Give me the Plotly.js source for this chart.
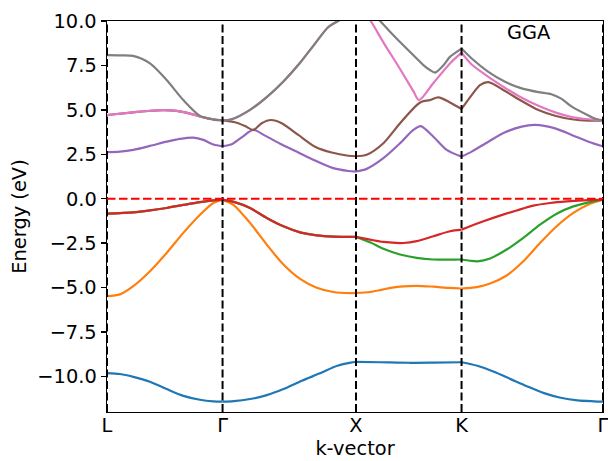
<!DOCTYPE html>
<html>
<head>
<meta charset="utf-8">
<script src="https://cdn.plot.ly/plotly-3.0.1.min.js"></script>
<style>html,body{margin:0;padding:0;background:#fff;}#chart{width:608px;height:461px;}</style>
</head>
<body>
<div id="chart"></div>
<script>
// High-symmetry k-points (path distance) and their labels
const kpoints = [0, 0.866, 1.866, 2.657, 3.717];
const kLabels = ['L', 'Γ', 'X', 'K', 'Γ'];
const yTicks = [-10, -7.5, -5, -2.5, 0, 2.5, 5, 7.5, 10];

// Band 1 (blue)
const k1 = [0, 0.097, 0.197, 0.322, 0.447, 0.572, 0.697, 0.797, 0.866, 0.95, 1.072, 1.197, 1.322, 1.46, 1.601, 1.726, 1.826, 1.866, 2.05, 2.26, 2.45, 2.657, 2.775, 2.9, 3.025, 3.15, 3.275, 3.4, 3.525, 3.65, 3.717];
const e1 = [-9.81, -9.86, -10.02, -10.30, -10.71, -11.09, -11.31, -11.40, -11.42, -11.39, -11.27, -11.05, -10.71, -10.24, -9.81, -9.40, -9.22, -9.18, -9.20, -9.23, -9.22, -9.20, -9.40, -9.74, -10.15, -10.56, -10.94, -11.20, -11.35, -11.40, -11.42];

// Band 2 (orange)
const k2 = [0, 0.097, 0.197, 0.322, 0.447, 0.572, 0.697, 0.797, 0.866, 0.947, 1.072, 1.197, 1.322, 1.447, 1.572, 1.697, 1.822, 1.866, 1.97, 2.071, 2.196, 2.321, 2.446, 2.57, 2.657, 2.771, 2.871, 2.995, 3.12, 3.245, 3.37, 3.495, 3.62, 3.717];
const e2 = [-5.48, -5.38, -4.92, -4.08, -3.05, -1.92, -0.90, -0.24, -0.05, -0.34, -1.36, -2.58, -3.70, -4.51, -5.01, -5.25, -5.31, -5.30, -5.25, -5.10, -4.95, -4.90, -4.95, -5.02, -5.05, -4.97, -4.77, -4.32, -3.52, -2.49, -1.55, -0.80, -0.28, -0.05];

// Band 3 (green)
const k3 = [0, 0.197, 0.322, 0.447, 0.572, 0.697, 0.797, 0.866, 0.95, 1.072, 1.197, 1.322, 1.447, 1.572, 1.697, 1.866, 1.971, 2.071, 2.196, 2.321, 2.446, 2.57, 2.657, 2.72, 2.775, 2.871, 2.995, 3.12, 3.245, 3.37, 3.495, 3.62, 3.717];
const e3 = [-0.84, -0.77, -0.66, -0.52, -0.35, -0.19, -0.09, -0.05, -0.18, -0.52, -1.08, -1.55, -1.89, -2.06, -2.13, -2.15, -2.45, -2.82, -3.14, -3.33, -3.42, -3.43, -3.42, -3.49, -3.52, -3.36, -2.86, -2.20, -1.46, -0.84, -0.43, -0.19, -0.05];

// Band 4 (red)
const k4 = [0, 0.197, 0.322, 0.447, 0.572, 0.697, 0.797, 0.866, 0.95, 1.072, 1.197, 1.322, 1.447, 1.572, 1.697, 1.866, 1.971, 2.071, 2.221, 2.321, 2.446, 2.57, 2.657, 2.821, 2.945, 3.07, 3.195, 3.32, 3.445, 3.57, 3.717];
const e4 = [-0.84, -0.77, -0.66, -0.52, -0.35, -0.19, -0.09, -0.05, -0.18, -0.52, -1.08, -1.55, -1.89, -2.06, -2.13, -2.15, -2.30, -2.43, -2.49, -2.39, -2.11, -1.83, -1.74, -1.27, -0.95, -0.66, -0.39, -0.24, -0.15, -0.09, -0.05];

// Band 5 (purple)
const k5 = [0, 0.097, 0.197, 0.322, 0.447, 0.547, 0.647, 0.722, 0.797, 0.866, 0.934, 1.009, 1.097, 1.184, 1.309, 1.434, 1.559, 1.684, 1.809, 1.866, 1.946, 2.071, 2.196, 2.296, 2.351, 2.446, 2.546, 2.657, 2.733, 2.858, 2.983, 3.108, 3.207, 3.358, 3.483, 3.608, 3.717];
const e5 = [2.62, 2.65, 2.75, 2.97, 3.21, 3.37, 3.44, 3.31, 3.05, 2.95, 3.06, 3.45, 3.87, 3.55, 3.05, 2.60, 2.15, 1.75, 1.56, 1.53, 1.68, 2.28, 3.12, 3.87, 4.09, 3.49, 2.75, 2.37, 2.65, 3.21, 3.74, 4.06, 4.15, 3.96, 3.59, 3.21, 2.95];

// Band 6 (brown)
const k6 = [0, 0.197, 0.322, 0.422, 0.522, 0.622, 0.722, 0.797, 0.866, 0.959, 1.034, 1.097, 1.159, 1.229, 1.309, 1.434, 1.559, 1.684, 1.809, 1.866, 1.946, 2.071, 2.196, 2.321, 2.358, 2.42, 2.483, 2.57, 2.657, 2.733, 2.795, 2.858, 2.983, 3.108, 3.233, 3.358, 3.483, 3.608, 3.717];
const e6 = [4.71, 4.86, 4.95, 4.99, 4.94, 4.79, 4.58, 4.47, 4.41, 4.30, 4.09, 3.87, 4.25, 4.43, 4.25, 3.59, 2.93, 2.60, 2.42, 2.39, 2.47, 3.12, 4.25, 5.27, 5.46, 5.55, 5.70, 5.42, 5.05, 5.83, 6.39, 6.56, 6.06, 5.50, 4.99, 4.67, 4.47, 4.39, 4.41];

// Band 7 (pink)
const k7 = [0, 0.197, 0.322, 0.422, 0.522, 0.622, 0.722, 0.797, 0.866, 0.934, 1.072, 1.197, 1.322, 1.447, 1.559, 1.659, 1.75, 1.866, 1.976, 2.071, 2.196, 2.296, 2.338, 2.446, 2.57, 2.657, 2.733, 2.858, 2.983, 3.108, 3.233, 3.358, 3.483, 3.608, 3.717];
const e7 = [4.71, 4.86, 4.95, 4.99, 4.94, 4.79, 4.58, 4.47, 4.41, 4.47, 5.00, 5.72, 6.60, 7.65, 8.73, 9.66, 10.1, 11.1, 10.0, 8.8, 7.3, 6.05, 5.55, 6.51, 7.61, 8.22, 7.55, 6.86, 6.24, 5.68, 5.23, 4.86, 4.60, 4.47, 4.41];

// Band 8 (gray)
const k8 = [0, 0.097, 0.195, 0.322, 0.447, 0.572, 0.697, 0.797, 0.866, 0.934, 1.072, 1.197, 1.322, 1.447, 1.559, 1.659, 1.75, 1.866, 1.95, 2.046, 2.121, 2.196, 2.321, 2.371, 2.42, 2.458, 2.52, 2.57, 2.657, 2.733, 2.858, 2.983, 3.108, 3.233, 3.33, 3.407, 3.483, 3.6, 3.66, 3.717];
const e8 = [8.08, 8.07, 8.04, 7.62, 6.68, 5.55, 4.66, 4.45, 4.41, 4.47, 5.00, 5.72, 6.60, 7.65, 8.73, 9.66, 10.1, 11.1, 10.7, 10.0, 9.4, 8.82, 7.89, 7.52, 7.24, 7.10, 7.50, 7.98, 8.45, 7.89, 7.14, 6.58, 6.21, 6.00, 5.88, 5.62, 5.18, 4.71, 4.50, 4.41];

const bands = [
  {k: k1, e: e1, color: '#1f77b4'},
  {k: k2, e: e2, color: '#ff7f0e'},
  {k: k3, e: e3, color: '#2ca02c'},
  {k: k4, e: e4, color: '#d62728'},
  {k: k5, e: e5, color: '#9467bd'},
  {k: k6, e: e6, color: '#8c564b'},
  {k: k7, e: e7, color: '#e377c2'},
  {k: k8, e: e8, color: '#7f7f7f'}
];

function isKpoint(v) { return kpoints.some(p => Math.abs(p - v) < 1e-9); }

function makeTrace(b, idx) {
  return {
    x: idx.map(i => b.k[i]),
    y: idx.map(i => b.e[i]),
    type: 'scatter', mode: 'lines',
    line: {color: b.color, width: 2.2, shape: 'spline', smoothing: 0.8},
    hoverinfo: 'skip', showlegend: false
  };
}

const traces = [];
bands.forEach(b => {
  // split at the interior high-symmetry points so kinks there stay sharp
  let cur = [];
  for (let i = 0; i < b.k.length; i++) {
    cur.push(i);
    if (i > 0 && i < b.k.length - 1 && isKpoint(b.k[i])) {
      traces.push(makeTrace(b, cur));
      cur = [i];
    }
  }
  traces.push(makeTrace(b, cur));
});

const shapes = kpoints.map(p => ({
  type: 'line', xref: 'x', yref: 'paper', x0: p, x1: p, y0: 0, y1: 1,
  line: {color: 'black', width: 2, dash: '8px,3.5px'}, layer: 'above'
}));
shapes.push({
  type: 'line', xref: 'paper', yref: 'y', x0: 0, x1: 1, y0: 0, y1: 0,
  line: {color: 'red', width: 2, dash: '8.5px,3.5px'}, layer: 'above'
});

const font = {family: 'DejaVu Sans', size: 19.4, color: '#000'};

const layout = {
  width: 608, height: 461,
  margin: {l: 107, r: 5, t: 21, b: 49},
  paper_bgcolor: '#fff', plot_bgcolor: '#fff',
  font: font,
  showlegend: false,
  xaxis: {
    range: [kpoints[0], kpoints[kpoints.length - 1]],
    tickmode: 'array', tickvals: kpoints, ticktext: kLabels,
    ticks: '', ticklabelstandoff: -5, ticklabeloverflow: 'allow',
    showgrid: false, zeroline: false,
    showline: true, mirror: true, linecolor: '#000', linewidth: 1.4,
    tickfont: font,
    title: {text: 'k-vector', font: font, standoff: 4}
  },
  yaxis: {
    range: [-12, 10],
    tickmode: 'array', tickvals: yTicks, tickformat: '.1f',
    ticks: 'outside', ticklen: 5, tickwidth: 1.4, tickcolor: '#000',
    showgrid: false, zeroline: false,
    showline: true, mirror: true, linecolor: '#000', linewidth: 1.4,
    tickfont: font,
    title: {text: 'Energy (eV)', font: font, standoff: 5}
  },
  shapes: shapes,
  annotations: [{
    text: 'GGA', xref: 'paper', yref: 'paper', x: 0.851, y: 0.97,
    xanchor: 'center', yanchor: 'middle', showarrow: false, font: font
  }]
};

Plotly.newPlot('chart', traces, layout, {displayModeBar: false, staticPlot: true});
</script>
</body>
</html>
